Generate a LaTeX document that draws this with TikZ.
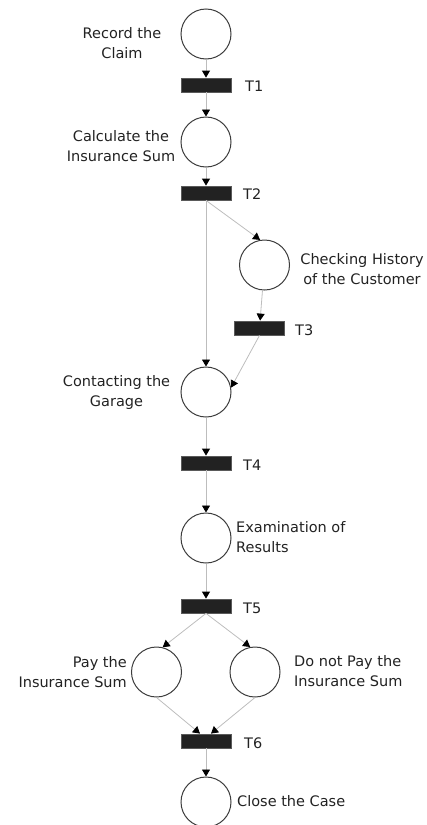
\documentclass[tikz,border=0pt]{standalone}
\usepackage{fontspec}
\setmainfont{DejaVu Sans}
\usetikzlibrary{arrows.meta}
\definecolor{placeedge}{HTML}{3C3C3C}
\definecolor{transfill}{HTML}{222222}
\definecolor{transedge}{HTML}{5A5A5A}
\definecolor{arcgray}{HTML}{BDBDBD}
\definecolor{labeltext}{HTML}{222222}
\begin{document}
\begin{tikzpicture}[x=1pt,y=-1pt,
  place/.style={circle, draw=placeedge, line width=1pt, minimum size=50pt, inner sep=0pt},
  trans/.style={rectangle, draw=transedge, fill=transfill, line width=0.8pt,
                minimum width=50pt, minimum height=14pt, inner sep=0pt},
  arc/.style={draw=arcgray, line width=0.8pt,
              -{Triangle[width=8pt,length=7pt,color=black]}},
  lbl/.style={font=\fontsize{14.5}{20}\selectfont, text=labeltext, inner sep=0pt}]
\useasboundingbox (0,0) rectangle (427,825);

% places
\node[place] (p1) at (206,34)    {};
\node[place] (p2) at (206,142)   {};
\node[place] (p3) at (264.5,265) {};
\node[place] (p4) at (206,392)   {};
\node[place] (p5) at (206,538)   {};
\node[place] (p6) at (156.5,672) {};
\node[place] (p7) at (255,672)   {};
\node[place] (p8) at (206,802)   {};

% transitions
\node[trans] (t1) at (206,85)    {};
\node[trans] (t2) at (206,193)   {};
\node[trans] (t3) at (259.5,328) {};
\node[trans] (t4) at (206,463)   {};
\node[trans] (t5) at (206,606)   {};
\node[trans] (t6) at (206,741)   {};

% place labels
\node[lbl, align=center] (l1) at (122,43)    {Record the\\Claim};
\node[lbl, align=center] (l2) at (121,146)   {Calculate the\\Insurance Sum};
\node[lbl, align=center] (l3) at (362,269)   {Checking History\\of the Customer};
\node[lbl, align=center] (l4) at (116.5,392) {Contacting the\\Garage};
\node[lbl, align=left, anchor=west]  (l5) at (236,537) {Examination of\\Results};
\node[lbl, align=right, anchor=east] (l6) at (127,672) {Pay the\\Insurance Sum};
\node[lbl, align=left, anchor=west]  (l7) at (294,671) {Do not Pay the\\Insurance Sum};
\node[lbl, anchor=west] (l8) at (237,801) {Close the Case};

% transition labels
\node[lbl, anchor=west] (lt1) at (245,86)  {T1};
\node[lbl, anchor=west] (lt2) at (243,194) {T2};
\node[lbl, anchor=west] (lt3) at (295,330) {T3};
\node[lbl, anchor=west] (lt4) at (243,465) {T4};
\node[lbl, anchor=west] (lt5) at (243,608) {T5};
\node[lbl, anchor=west] (lt6) at (244,743) {T6};

% arcs
\draw[arc] (p1) -- (t1);
\draw[arc] (t1) -- (p2);
\draw[arc] (p2) -- (t2);
\draw[arc] (t2.south) -- (p3.100);
\draw[arc] (t2) -- (p4);
\draw[arc] (p3) -- (t3);
\draw[arc] (t3.south) -- (p4.10);
\draw[arc] (p4) -- (t4);
\draw[arc] (t4) -- (p5);
\draw[arc] (p5) -- (t5);
\draw[arc] (t5.south) -- (p6.76);
\draw[arc] (t5.south) -- (p7.101);
\draw[arc] (p6.south) -- ([xshift=-6pt]t6.north);
\draw[arc] (p7.south) -- ([xshift=5pt]t6.north);
\draw[arc] (t6) -- (p8);
\end{tikzpicture}
\end{document}
